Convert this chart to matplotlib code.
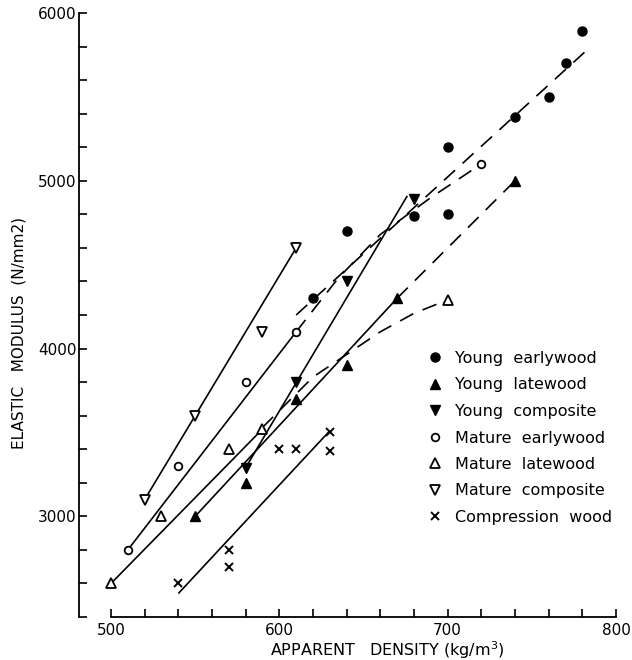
import matplotlib
matplotlib.use("Agg")
import matplotlib.pyplot as plt
from matplotlib.lines import Line2D

# measured points (density kg/m3, modulus N/mm2)
young_early_x = [620, 640, 680, 700, 700, 740, 760, 770, 780]
young_early_y = [4300, 4700, 4790, 4800, 5200, 5380, 5500, 5700, 5890]

young_late_x = [550, 580, 610, 640, 670, 740]
young_late_y = [3000, 3200, 3700, 3900, 4300, 5000]

young_comp_x = [580, 610, 640, 680]
young_comp_y = [3290, 3800, 4400, 4890]

mature_early_x = [510, 540, 580, 610, 720]
mature_early_y = [2800, 3300, 3800, 4100, 5100]

mature_late_x = [500, 530, 570, 590, 700]
mature_late_y = [2600, 3000, 3400, 3520, 4290]

mature_comp_x = [520, 550, 590, 610]
mature_comp_y = [3100, 3600, 4100, 4600]

compression_x = [540, 570, 570, 600, 610, 630, 630]
compression_y = [2600, 2800, 2700, 3400, 3400, 3500, 3390]

# fitted lines (solid)
fit_mature_comp = ([520, 610], [3100, 4600])
fit_mature_early = ([510, 610], [2800, 4100])
fit_mature_late = ([500, 590], [2600, 3520])
fit_young_late = ([550, 670], [3000, 4300])
fit_young_comp = ([580, 676], [3290, 4910])
fit_compression = ([540, 630], [2540, 3510])

# trend lines (dashed)
trend_young_early = ([610, 785], [4200, 5800])
trend_mature_early = ([610, 635, 660, 690, 720], [4100, 4420, 4680, 4900, 5100])
trend_young_late = ([670, 740], [4300, 5000])
trend_mature_late = ([590, 620, 640, 660, 680, 700], [3530, 3830, 3965, 4100, 4210, 4290])

labels = ["Young  earlywood", "Young  latewood", "Young  composite",
          "Mature  earlywood", "Mature  latewood", "Mature  composite",
          "Compression  wood"]

fig = plt.figure(figsize=(6.32, 6.6), dpi=100)
ax = fig.add_axes([111 / 632, 1 - 617 / 660, 505 / 632, 604 / 660])

lw = 1.2
for xs, ys in [fit_mature_comp, fit_mature_early, fit_mature_late,
               fit_young_late, fit_young_comp, fit_compression]:
    ax.plot(xs, ys, color="black", lw=lw, solid_capstyle="butt")
for xs, ys in [trend_young_early, trend_mature_early, trend_young_late, trend_mature_late]:
    ax.plot(xs, ys, color="black", lw=lw, dashes=(9, 6))

styles = [
    dict(marker="o", ms=6.5, mfc="black", mec="black"),
    dict(marker="^", ms=7.5, mfc="black", mec="black"),
    dict(marker="v", ms=7.5, mfc="black", mec="black"),
    dict(marker="o", ms=5.5, mfc="white", mec="black", mew=1.3),
    dict(marker="^", ms=7, mfc="white", mec="black", mew=1.3),
    dict(marker="v", ms=7, mfc="white", mec="black", mew=1.3),
    dict(marker="x", ms=6, mec="black", mew=1.4),
]
series = [(young_early_x, young_early_y), (young_late_x, young_late_y),
          (young_comp_x, young_comp_y), (mature_early_x, mature_early_y),
          (mature_late_x, mature_late_y), (mature_comp_x, mature_comp_y),
          (compression_x, compression_y)]
for (xs, ys), st in zip(series, styles):
    ax.plot(xs, ys, ls="none", clip_on=False, zorder=3, **st)

ax.set_xlim(500, 800)
ax.set_ylim(2400, 6000)
ax.set_xticks(range(500, 801, 20), minor=True)
ax.set_xticks([500, 600, 700, 800])
ax.set_yticks(range(2400, 6001, 200), minor=True)
ax.set_yticks([3000, 4000, 5000, 6000])
ax.tick_params(which="both", direction="in", length=6, width=1.2,
               labelsize=11)
ax.tick_params(axis="x", pad=4)
ax.tick_params(axis="y", pad=2)

for s in ["top", "right"]:
    ax.spines[s].set_visible(False)
ax.spines["left"].set_position(("outward", 23))
ax.spines["left"].set_linewidth(1.3)
ax.spines["bottom"].set_linewidth(1.3)

ax.set_xlabel("APPARENT   DENSITY (kg/m$^3$)", fontsize=11.5)
ax.xaxis.set_label_coords(0.547, -0.037)
ax.set_ylabel("ELASTIC   MODULUS  (N/mm2)", fontsize=11)
ax.yaxis.set_label_coords(-0.168, 0.47)

handles = [Line2D([], [], ls="none", color="black", **st) for st in styles]
fig.legend(handles, labels, loc="upper left",
           bbox_to_anchor=(427 / 632, 1 - 351 / 660),
           frameon=False, fontsize=11.5, handlelength=1.0, handletextpad=0.75,
           labelspacing=0.72, borderpad=0, borderaxespad=0)

fig.savefig("out.png", dpi=100)
